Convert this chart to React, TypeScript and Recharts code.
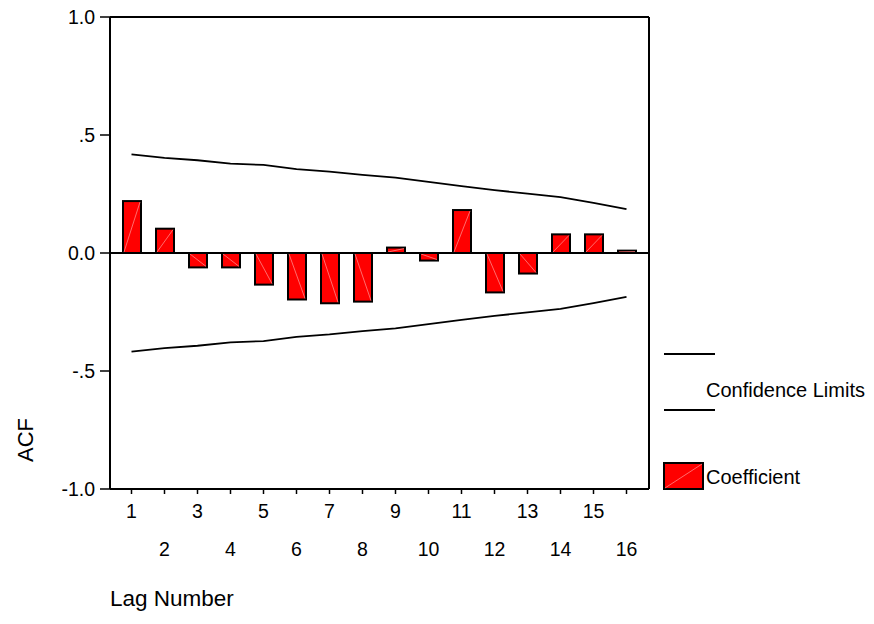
import React from 'react';
import { ComposedChart, Bar, Line, XAxis, YAxis, ReferenceLine } from 'recharts';

const lags = [1, 2, 3, 4, 5, 6, 7, 8, 9, 10, 11, 12, 13, 14, 15, 16];
const coefficients = [0.22, 0.103, -0.061, -0.061, -0.134, -0.197, -0.213, -0.206, 0.023, -0.032, 0.182, -0.167, -0.087, 0.079, 0.079, 0.01];
const upperLimits = [0.418, 0.403, 0.393, 0.379, 0.373, 0.355, 0.345, 0.331, 0.319, 0.301, 0.283, 0.266, 0.252, 0.237, 0.212, 0.186];
const lowerLimits = [-0.418, -0.403, -0.393, -0.379, -0.373, -0.355, -0.345, -0.331, -0.319, -0.301, -0.283, -0.266, -0.252, -0.237, -0.212, -0.186];
const yTicks = [-1, -0.5, 0, 0.5, 1];
const yTickLabels = ['-1.0', '-.5', '0.0', '.5', '1.0'];

const data = lags.map((lag, i) => ({
  lag,
  acf: coefficients[i],
  upper: upperLimits[i],
  lower: lowerLimits[i],
}));

const FONT = '"Liberation Sans", Arial, Helvetica, sans-serif';
const TICK_SIZE = 19.5;

const XTick = (props: any) => {
  const { x, y, payload } = props;
  const odd = Number(payload.value) % 2 === 1;
  return (
    <text
      x={x}
      y={y + (odd ? 15 : 53)}
      textAnchor="middle"
      dominantBaseline="central"
      fontSize={TICK_SIZE}
      fontFamily={FONT}
      fill="#000"
    >
      {payload.value}
    </text>
  );
};

const BarShape = (props: any) => {
  const { x, y, width, height, payload } = props;
  const top = Math.min(y, y + height);
  const h = Math.abs(height);
  const positive = payload.acf >= 0;
  return (
    <g>
      <rect x={x} y={top} width={width} height={h} fill="#ff0000" stroke="#000" strokeWidth={2} />
      {positive ? (
        <line x1={x + 1} y1={top + h - 1} x2={x + width - 1} y2={top + 1} stroke="#ff9a9a" strokeWidth={0.7} />
      ) : (
        <line x1={x + 1} y1={top + 1} x2={x + width - 1} y2={top + h - 1} stroke="#ff9a9a" strokeWidth={0.7} />
      )}
    </g>
  );
};

const yLabel = (props: any) => {
  const vb = props.viewBox || { x: 0, y: 17, width: 110, height: 472 };
  const cx = vb.x + 25;
  const cy = vb.y + vb.height - 49;
  return (
    <text
      x={cx}
      y={cy}
      transform={`rotate(-90 ${cx} ${cy})`}
      textAnchor="middle"
      dominantBaseline="central"
      fontSize={22}
      fontFamily={FONT}
      fill="#000"
    >
      ACF
    </text>
  );
};

const xLabel = (props: any) => {
  const vb = props.viewBox || { x: 110, y: 489, width: 539, height: 100 };
  return (
    <text
      x={vb.x}
      y={vb.y + 109}
      textAnchor="start"
      dominantBaseline="central"
      fontSize={22.5}
      fontFamily={FONT}
      fill="#000"
    >
      Lag Number
    </text>
  );
};

const LegendOverlay = () => (
  <svg width={874} height={624} style={{ position: 'absolute', left: 0, top: 0, pointerEvents: 'none' }}>
    <line x1={664} y1={354} x2={715} y2={354} stroke="#000" strokeWidth={1.8} />
    <text x={706} y={390} dominantBaseline="central" fontSize={20} fontFamily={FONT} fill="#000">
      Confidence Limits
    </text>
    <line x1={664} y1={410} x2={715} y2={410} stroke="#000" strokeWidth={1.8} />
    <rect x={664} y={463} width={39} height={26} fill="#ff0000" stroke="#000" strokeWidth={2} />
    <line x1={665} y1={488} x2={702} y2={464} stroke="#ff9a9a" strokeWidth={0.7} />
    <text x={706} y={477} dominantBaseline="central" fontSize={20} fontFamily={FONT} fill="#000">
      Coefficient
    </text>
  </svg>
);

export default function App() {
  return (
    <div style={{ position: 'absolute', left: 0, top: 0, width: 874, height: 624, background: '#fff' }}>
      <ComposedChart
        width={874}
        height={624}
        data={data}
        margin={{ top: 16, right: 224, bottom: 35, left: 0 }}
        barCategoryGap={0}
      >
        <XAxis
          dataKey="lag"
          type="category"
          height={100}
          padding={{ left: 5, right: 6 }}
          axisLine={{ stroke: '#000', strokeWidth: 2 }}
          tickLine={{ stroke: '#000', strokeWidth: 1.5 }}
          tickSize={5}
          tickMargin={2}
          interval={0}
          tick={<XTick />}
          label={xLabel}
        />
        <XAxis
          xAxisId="top"
          dataKey="lag"
          type="category"
          orientation="top"
          height={1}
          padding={{ left: 5, right: 6 }}
          interval={0}
          tick={false}
          tickLine={false}
          axisLine={{ stroke: '#000', strokeWidth: 2 }}
        />
        <YAxis
          type="number"
          domain={[-1, 1]}
          ticks={yTicks}
          width={110}
          allowDataOverflow
          tickSize={10}
          tickMargin={5}
          axisLine={{ stroke: '#000', strokeWidth: 2 }}
          tickLine={{ stroke: '#000', strokeWidth: 1.5 }}
          tick={{ fontSize: TICK_SIZE, fill: '#000', fontFamily: FONT }}
          tickFormatter={(v: number) => yTickLabels[yTicks.indexOf(v)] ?? String(v)}
          label={yLabel}
        />
        <YAxis
          yAxisId="right"
          orientation="right"
          type="number"
          domain={[-1, 1]}
          ticks={yTicks}
          allowDataOverflow
          width={1}
          tick={false}
          tickLine={false}
          axisLine={{ stroke: '#000', strokeWidth: 2 }}
        />
        <ReferenceLine y={1} stroke="#000" strokeWidth={2} />
        <ReferenceLine y={0} stroke="#000" strokeWidth={1.8} />
        <Bar dataKey="acf" barSize={18} shape={<BarShape />} isAnimationActive={false} />
        <Line yAxisId="right" dataKey="upper" type="linear" stroke="#000" strokeWidth={1.8} dot={false} activeDot={false} isAnimationActive={false} />
        <Line xAxisId="top" dataKey="lower" type="linear" stroke="#000" strokeWidth={1.8} dot={false} activeDot={false} isAnimationActive={false} />
      </ComposedChart>
      <LegendOverlay />
    </div>
  );
}
